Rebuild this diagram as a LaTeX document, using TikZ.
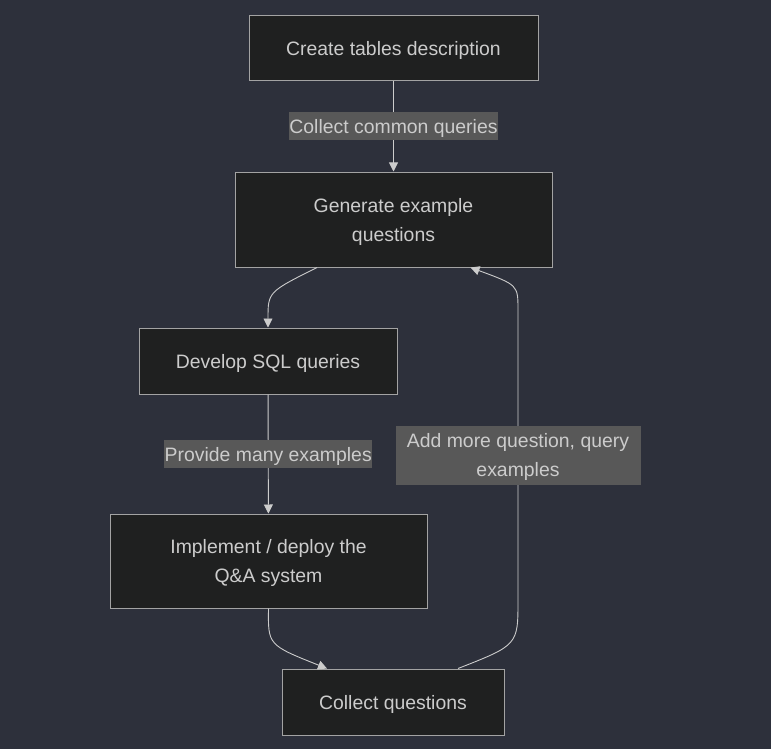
\documentclass[tikz,border=0pt]{standalone}
\usepackage{fontspec}
\setmainfont{Liberation Sans}
\usetikzlibrary{arrows.meta}

\definecolor{bgcol}{HTML}{2D303B}
\definecolor{boxcol}{HTML}{1F2020}
\definecolor{linecol}{HTML}{A3A3A3}
\definecolor{txtcol}{HTML}{CCCCCC}
\definecolor{lblcol}{HTML}{585858}

\begin{document}
\begin{tikzpicture}[x=1pt,y=-1pt,>/.tip={Triangle[length=9pt,width=9pt]},
  step box/.style={draw=linecol,fill=boxcol,text=txtcol,line width=1pt,align=center,
    font=\fontsize{19.4}{29}\selectfont,inner sep=0pt,text height=14pt,text depth=0pt},
  edge label/.style={fill=lblcol,text=txtcol,align=center,inner sep=0pt,
    font=\fontsize{19.4}{29}\selectfont,text height=14pt,text depth=0pt},
  two lines/.style={text height=43pt},
  flow/.style={draw=txtcol,line width=0.9pt,->}]
\fill[bgcol] (0,0) rectangle (771,749);
\useasboundingbox (0,0) rectangle (771,749);

\draw (393.5,48.5) node (tables) [step box,minimum width=289,minimum height=65] {Create tables description};
\draw (393.5,219.5) node (gen) [step box,two lines,minimum width=317,minimum height=95] {Generate example\\questions};
\draw (268,361)   node (sql) [step box,minimum width=258,minimum height=66] {Develop SQL queries};
\draw (268.5,561) node (impl) [step box,two lines,minimum width=317,minimum height=94] {Implement / deploy the\\Q\&A system};
\draw (393,702)   node (collect) [step box,minimum width=222,minimum height=66] {Collect questions};

\draw[flow] (tables) -- node [edge label,minimum width=209,minimum height=28] {Collect common queries} (gen);
\draw[flow] ([xshift=-76.5]gen.south) .. controls (268,292) .. (sql.north);
\draw[flow] (sql) -- node [edge label,minimum width=208,minimum height=28] {Provide many examples} (impl);
\draw[flow] (impl.south) .. controls (268,645) .. ([xshift=-66]collect.north);
\draw[flow] ([xshift=65]collect.north) .. controls (518,645) .. (518,600)
  -- node [edge label,two lines,minimum width=245,minimum height=59] {Add more question, query\\examples} (518,310)
  .. controls (518,285) .. ([xshift=77]gen.south);

\end{tikzpicture}
\end{document}
